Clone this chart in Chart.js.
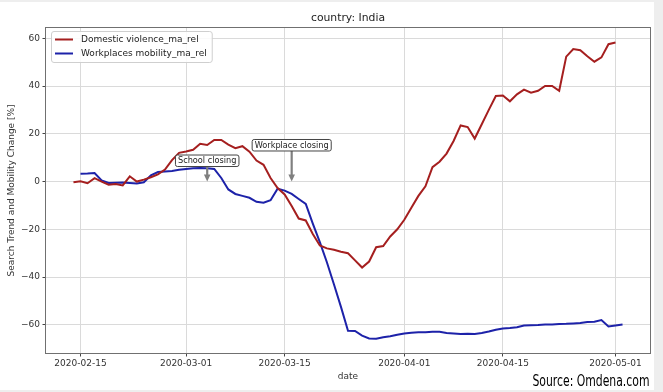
<!DOCTYPE html>
<html>
<head>
<meta charset="utf-8">
<script src="https://cdn.jsdelivr.net/npm/chart.js@4.4.1/dist/chart.umd.min.js"></script>
<style>
html, body { margin: 0; padding: 0; background: #eeeeee; }
#card { position: absolute; left: 0; top: 2px; width: 654px; height: 388px; background: #fff; }
#wrap { position: absolute; left: 0; top: 0; width: 663px; height: 392px; }
#source { position: absolute; right: 14px; top: 373px; line-height: 16px; font-family: "Liberation Sans Narrow", "DejaVu Sans Condensed", sans-serif; font-size: 16px; color: #000; white-space: nowrap; transform-origin: right center; }
</style>
</head>
<body>
<div id="card"></div>
<div id="wrap"><canvas id="grafico" width="663" height="392"></canvas></div>
<div id="source">Source: Omdena.com</div>
<script>
// asse x in giorni dal primo tick
var inizio = '2020-02-15';
var tickDate = ['2020-02-15', '2020-03-01', '2020-03-15', '2020-04-01', '2020-04-15', '2020-05-01'];
var yTicks = [-60, -40, -20, 0, 20, 40, 60];

var etichette = ['Domestic violence_ma_rel', 'Workplaces mobility_ma_rel'];

// valori giornalieri
var violenzaInizio = '2020-02-14';
var violenza = [-0.3, 0.1, -0.7, 1.4, 0.0, -1.3, -1.0, -1.6, 2.2, 0.0,
	0.8, 1.8, 3.0, 5.0, 9.0, 12.0, 12.6, 13.3, 15.8, 15.3,
	17.4, 17.4, 15.5, 14.0, 14.8, 12.5, 8.8, 7.0, 1.5, -2.7,
	-5.4, -10.2, -15.5, -16.3, -22.0, -26.8, -28.0, -28.6, -29.4, -30.0,
	-33.0, -36.0, -33.5, -27.5, -27.0, -23.0, -20.0, -16.0, -11.0, -6.0,
	-2.0, 6.0, 8.3, 11.7, 17.0, 23.5, 22.8, 18.0, 24.0, 30.0,
	35.8, 36.0, 33.6, 36.5, 38.5, 37.2, 38.0, 40.0, 40.0, 38.0,
	52.3, 55.5, 55.0, 52.5, 50.2, 52.0, 57.5, 58.2];

var mobilitaInizio = '2020-02-15';
var mobilita = [3.3, 3.4, 3.6, 0.5, -0.6, -0.5, -0.4, -0.6, -0.8, -0.3,
	2.6, 4.0, 4.2, 4.4, 4.9, 5.3, 5.6, 5.7, 5.6, 5.3,
	1.5, -3.3, -5.2, -6.0, -6.8, -8.5, -8.9, -7.8, -3.0, -3.8,
	-5.2, -7.3, -9.4, -17.6, -25.4, -33.8, -43.0, -52.5, -62.5, -62.6,
	-64.5, -65.7, -65.8, -65.2, -64.8, -64.2, -63.6, -63.3, -63.1, -63.1,
	-62.9, -62.9, -63.4, -63.6, -63.8, -63.7, -63.8, -63.4, -62.8, -62.1,
	-61.5, -61.3, -61.0, -60.3, -60.2, -60.1, -59.9, -59.9, -59.7, -59.6,
	-59.4, -59.2, -58.8, -58.7, -58.0, -60.7, -60.3, -59.9];

// annotazioni
var eventi = ['School closing', 'Workplace closing'];
var eventiDate = ['2020-03-04', '2020-03-16'];
var eventiLivello = [8.7, 15.2];

var colori = ['#a51f1f', '#1d22a9'];

function giorno(d) {
	return (Date.parse(d) - Date.parse(inizio)) / 86400000;
}

function punti(start, valori) {
	var g0 = giorno(start);
	return valori.map(function(v, i) {
		return { x: g0 + i, y: v };
	});
}

function meno(v) {
	return v < 0 ? '\u2212' + Math.abs(v) : String(v);
}

function rettangolo(ctx, x, y, w, h, r) {
	ctx.beginPath();
	ctx.moveTo(x + r, y);
	ctx.lineTo(x + w - r, y);
	ctx.arcTo(x + w, y, x + w, y + r, r);
	ctx.lineTo(x + w, y + h - r);
	ctx.arcTo(x + w, y + h, x + w - r, y + h, r);
	ctx.lineTo(x + r, y + h);
	ctx.arcTo(x, y + h, x, y + h - r, r);
	ctx.lineTo(x, y + r);
	ctx.arcTo(x, y, x + r, y, r);
	ctx.closePath();
}

var cornice = {
	id: 'cornice',
	afterDatasetsDraw: function(chart) {
		var ctx = chart.ctx;
		var a = chart.chartArea;
		var sx = chart.scales.x, sy = chart.scales.y;
		ctx.save();

		// bordo
		ctx.strokeStyle = '#707070';
		ctx.lineWidth = 1;
		ctx.strokeRect(Math.round(a.left) - 0.5, Math.round(a.top) - 0.5,
			Math.round(a.right - a.left) + 1, Math.round(a.bottom - a.top) + 1);

		// titolo
		ctx.fillStyle = '#222';
		ctx.font = '10.8px "DejaVu Sans"';
		ctx.textAlign = 'center';
		ctx.textBaseline = 'middle';
		ctx.fillText('country: India', (a.left + a.right) / 2, 18.5);

		// frecce e box
		ctx.font = '8.2px "DejaVu Sans"';
		var zero = sy.getPixelForValue(0);
		for (var i = 0; i < eventi.length; i++) {
			var px = sx.getPixelForValue(giorno(eventiDate[i]));
			var py = sy.getPixelForValue(eventiLivello[i]);
			var w = ctx.measureText(eventi[i]).width + 5;
			var h = 11.5;
			ctx.strokeStyle = '#808080';
			ctx.lineWidth = 2.2;
			ctx.beginPath();
			ctx.moveTo(px, py + h / 2);
			ctx.lineTo(px, zero - 6);
			ctx.stroke();
			ctx.fillStyle = '#808080';
			ctx.beginPath();
			ctx.moveTo(px - 3.3, zero - 7);
			ctx.lineTo(px + 3.3, zero - 7);
			ctx.lineTo(px, zero);
			ctx.closePath();
			ctx.fill();

			rettangolo(ctx, px - w / 2, py - h / 2, w, h, 2);
			ctx.fillStyle = '#fff';
			ctx.fill();
			ctx.strokeStyle = '#444';
			ctx.lineWidth = 1;
			ctx.stroke();
			ctx.fillStyle = '#222';
			ctx.fillText(eventi[i], px, py + 0.5);
		}

		// legenda
		ctx.font = '9px "DejaVu Sans"';
		var maxW = 0;
		chart.data.datasets.forEach(function(ds) {
			maxW = Math.max(maxW, ctx.measureText(ds.label).width);
		});
		var lx = a.left + 5, ly = a.top + 3;
		rettangolo(ctx, lx + 0.5, ly + 0.5, 35 + maxW, 31, 2.5);
		ctx.fillStyle = 'rgba(255,255,255,0.85)';
		ctx.fill();
		ctx.strokeStyle = '#cfcfcf';
		ctx.lineWidth = 1;
		ctx.stroke();
		ctx.textAlign = 'left';
		chart.data.datasets.forEach(function(ds, k) {
			var yy = ly + 8.5 + k * 14;
			ctx.strokeStyle = ds.borderColor;
			ctx.lineWidth = 2;
			ctx.beginPath();
			ctx.moveTo(lx + 4, yy);
			ctx.lineTo(lx + 22, yy);
			ctx.stroke();
			ctx.fillStyle = '#222';
			ctx.fillText(ds.label, lx + 30, yy);
		});
		ctx.restore();
	}
};

var fontTick = { family: 'DejaVu Sans', size: 9 };

var ctx = document.getElementById('grafico').getContext('2d');
var grafico = new Chart(ctx, {
	type: 'line',
	data: {
		datasets: [ {
			label: etichette[0],
			data: punti(violenzaInizio, violenza),
			borderColor: colori[0],
			borderWidth: 2,
			pointRadius: 0,
			tension: 0,
			fill: false
		}, {
			label: etichette[1],
			data: punti(mobilitaInizio, mobilita),
			borderColor: colori[1],
			borderWidth: 2,
			pointRadius: 0,
			tension: 0,
			fill: false
		} ]
	},
	options: {
		responsive: false,
		animation: false,
		events: [],
		layout: { padding: { left: 0, right: 13, top: 28, bottom: 0 } },
		plugins: {
			legend: { display: false },
			title: { display: false },
			tooltip: { enabled: false }
		},
		scales: {
			x: {
				type: 'linear',
				min: -4.9,
				max: 80.9,
				afterBuildTicks: function(s) {
					s.ticks = tickDate.map(function(d) { return { value: giorno(d) }; });
				},
				afterFit: function(s) { s.height = 39; },
				ticks: {
					callback: function(v) {
						for (var i = 0; i < tickDate.length; i++) {
							if (giorno(tickDate[i]) === v) return tickDate[i];
						}
						return '';
					},
					font: fontTick,
					color: '#333',
					padding: 2,
					maxRotation: 0,
					autoSkip: false
				},
				grid: { color: '#dadada', lineWidth: 1, tickLength: 3.5, tickColor: '#444' },
				border: { display: false },
				title: { display: true, text: 'date', font: fontTick, color: '#333', padding: { top: 0, bottom: 10 } }
			},
			y: {
				min: -71.8,
				max: 64.3,
				afterBuildTicks: function(s) {
					s.ticks = yTicks.map(function(v) { return { value: v }; });
				},
				afterFit: function(s) { s.width = 46; },
				ticks: {
					callback: function(v) { return meno(v); },
					font: fontTick,
					color: '#333',
					padding: 2.5
				},
				grid: { color: '#dadada', lineWidth: 1, tickLength: 3.5, tickColor: '#444' },
				border: { display: false },
				title: { display: true, text: 'Search Trend and Mobility Change [%]', font: fontTick, color: '#333', padding: { top: 6.6, bottom: 0 } }
			}
		}
	},
	plugins: [ cornice ]
});

// testo della fonte compresso alla larghezza del riferimento
var fonte = document.getElementById('source');
var larg = fonte.getBoundingClientRect().width;
if (larg > 0) fonte.style.transform = 'scaleX(' + (117 / larg) + ')';
</script>
</body>
</html>
